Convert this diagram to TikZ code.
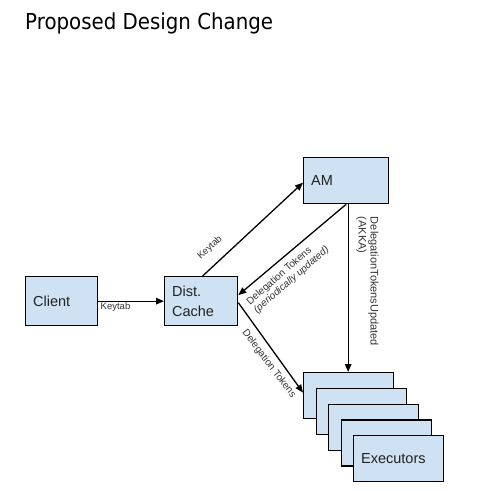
\documentclass[tikz,border=0pt]{standalone}
\usepackage{fontspec}
\setmainfont{Liberation Sans}
\newfontfamily\titlefont{DejaVu Sans}[FakeStretch=0.9]
\usetikzlibrary{arrows.meta,calc}
\definecolor{boxfill}{HTML}{CFE2F3}
\definecolor{txt}{HTML}{222222}
\definecolor{lbltxt}{HTML}{333333}
\begin{document}
\begin{tikzpicture}[x=1pt,y=-1pt,
  box/.style={draw=black, fill=boxfill, line width=1.3pt, anchor=north west,
    inner xsep=7.5pt, inner ysep=0pt, align=left, text=txt,
    font=\fontsize{14.5}{20}\selectfont},
  conn/.style={line width=1.3pt, -{Triangle[length=8pt,width=6.5pt]}},
  lbl/.style={text=lbltxt, font=\fontsize{9.5}{11}\selectfont, inner sep=0pt, align=left},
  lblb/.style={lbl, font=\fontsize{10}{11}\selectfont}]
\useasboundingbox (0,0) rectangle (500,490);
\node[anchor=base west, inner sep=0pt, font=\titlefont\fontsize{22}{26}\selectfont] (title) at (25,29) {Proposed Design Change};
\node[box, text width=57pt, minimum height=49pt] (client) at (25,276) {Client};
\node[box, text width=58pt, minimum height=49pt] (dc) at (164,276) {Dist.\\Cache};
\node[box, text width=70pt, minimum height=46pt] (am) at (303,157) {AM};
\node[box, text width=75pt, minimum height=46pt] (e1) at (303,372) {};
\node[box, text width=75pt, minimum height=46pt] (e2) at (315.5,387.75) {};
\node[box, text width=75pt, minimum height=46pt] (e3) at (328,403.5) {};
\node[box, text width=75pt, minimum height=46pt] (e4) at (340.5,419.25) {};
\node[box, text width=75pt, minimum height=46pt] (e5) at (353,435) {Executors};
\draw[conn] (client) -- (dc);
\draw[conn] ([xshift=1.5pt]dc.north) -- ([yshift=-2pt]am.west);
\draw[conn] (am.south) -- ([yshift=6pt]dc.east);
\draw[conn] ([xshift=2pt]am.south) -- ([xshift=2pt]am.south |- e1.north);
\draw[conn] ([yshift=-1.5pt]dc.east) -- ([yshift=3pt]e1.west);
\node[lbl] (k1) at (115.5,307.5) {Keytab};
\node[lbl, rotate=43] (k2) at (210,248) {Keytab};
\node[lblb, rotate=41] (dt1) at (288,276) {Delegation Tokens\\\textit{(periodically updated)}};
\node[lblb, rotate=-53] (dt2) at (269,364) {Delegation Tokens};
\node[lbl, rotate=-90, font=\fontsize{11}{12}\selectfont] (dtu) at (367.5,281.5) {DelegationTokensUpdated\\(AKKA)};
\end{tikzpicture}
\end{document}
